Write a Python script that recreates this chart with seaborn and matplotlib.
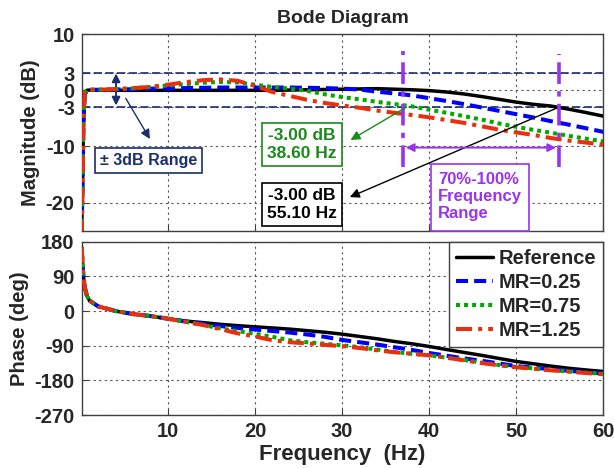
import numpy as np
import pandas as pd
import seaborn as sns
import matplotlib
matplotlib.use("Agg")
import matplotlib.pyplot as plt
from matplotlib.patches import Rectangle

#--- data ---
freq = [0.1, 0.2, 0.3, 0.45, 0.7, 1, 2, 4, 6, 8, 10, 12, 14, 16, 18, 20, 22, 24,
        26, 28, 30, 32, 34, 36, 38, 40, 42, 44, 46, 48, 50, 52, 54, 56, 58, 60]

mag_ref = [-25, -17, -6, -0.8, 0, 0.05, 0, 0, 0, 0, 0, 0, 0, 0, 0, 0, 0, 0.05,
           0.1, 0.15, 0.2, 0.25, 0.3, 0.2, 0.1, -0.05, -0.3, -0.65, -1.1, -1.6,
           -2.1, -2.5, -2.8, -3.35, -3.95, -4.6]
mag_025 = [-25, -17, -6, -0.8, 0.1, 0.1, 0.1, 0.15, 0.2, 0.3, 0.35, 0.4, 0.45,
           0.5, 0.5, 0.5, 0.5, 0.5, 0.45, 0.4, 0.3, 0.15, -0.25, -0.55, -0.9,
           -1.4, -1.9, -2.45, -3.05, -3.65, -4.25, -4.85, -5.5, -6.1, -6.75, -7.4]
mag_075 = [-25, -17, -6, -0.6, 0.1, 0.1, 0.1, 0.2, 0.35, 0.6, 0.85, 1.1, 1.35,
           1.5, 1.4, 1.0, 0.6, 0.3, -0.1, -0.7, -1.2, -1.6, -2.05, -2.45, -2.85,
           -3.45, -4.0, -4.6, -5.2, -5.9, -6.5, -7.05, -7.55, -8.1, -8.6, -9.1]
mag_125 = [-26, -18, -6.5, -0.5, 0.1, 0.1, 0.1, 0.2, 0.4, 0.6, 1.0, 1.45, 1.8,
           1.95, 1.7, 0.8, -0.3, -1.0, -1.7, -2.25, -2.7, -3.1, -3.6, -4.0, -4.4,
           -4.8, -5.3, -5.8, -6.4, -7.0, -7.5, -7.95, -8.5, -8.95, -9.3, -9.7]

ph_ref = [165, 125, 90, 62, 40, 27, 12, 0, -8, -13, -20, -26, -30, -34.5, -38,
          -41, -44, -47, -51, -55, -60, -66, -72, -79, -85, -92, -100, -107.5,
          -115, -123, -131, -137, -143, -148.5, -153, -157]
ph_025 = [165, 125, 90, 62, 40, 27, 12, 0, -8, -13, -20, -27, -33, -39, -44,
          -48, -52, -56, -61, -67, -75, -81, -87, -94, -101, -109, -116, -123,
          -129, -136, -143, -147, -151, -155, -159, -162]
ph_075 = [165, 125, 90, 62, 40, 27, 12, 0, -8, -13, -20, -28, -36, -45, -52,
          -59, -67, -76, -81, -85, -89, -94, -100, -106, -111, -115, -121, -127,
          -134, -140, -145, -149, -153, -157, -160, -163]
ph_125 = [165, 125, 90, 62, 40, 27, 12, 0, -8, -13, -20, -28, -36, -47, -58,
          -66, -76, -81, -84, -88, -91, -96, -102, -107, -111, -115, -121, -128,
          -135, -141, -146, -150, -154, -157, -161, -164]

labels = ['Reference', 'MR=0.25', 'MR=0.75', 'MR=1.25']
mag_tab = [mag_ref, mag_025, mag_075, mag_125]
ph_tab = [ph_ref, ph_025, ph_075, ph_125]

# annotation values
cut_ref = 55.1
cut_075 = 38.6
band = [37.0, 54.9]

#--- styles ---
colors = ['black', '#0000ff', '#00aa00', '#e8300e']
styles = ['-', (0, (3, 1.5)), (0, (1, 1)), (0, (4, 1.5, 1, 1.5))]
widths = [2.5, 2.9, 2.9, 2.9]
navy = '#1a2e70'
purple = '#9933ee'
green = '#1a8a1a'

sns.set_style('ticks')
plt.rcParams['font.family'] = ['Liberation Sans', 'DejaVu Sans']
plt.rcParams['font.weight'] = 'bold'
plt.rcParams['axes.labelweight'] = 'bold'
plt.rcParams['axes.titleweight'] = 'bold'
plt.rcParams['axes.unicode_minus'] = False

fig = plt.figure(figsize=(6.14, 4.68), dpi=100)
ax1 = fig.add_axes([0.133, 0.507, 0.8496, 0.420])
ax2 = fig.add_axes([0.133, 0.1132, 0.8496, 0.3704])

for i in range(4):
    sns.lineplot(x=freq, y=mag_tab[i], ax=ax1, color=colors[i], linestyle=styles[i],
                 lw=widths[i], errorbar=None, legend=False, zorder=3 + i * 0.1)
    sns.lineplot(x=freq, y=ph_tab[i], ax=ax2, color=colors[i], linestyle=styles[i],
                 lw=widths[i], errorbar=None, label=labels[i], zorder=3 + i * 0.1)

for ax in (ax1, ax2):
    ax.set_xlim(0.1, 60)
    ax.set_xticks([10, 20, 30, 40, 50, 60])
    ax.grid(True, ls=(0, (2, 3)), color='#555555', lw=0.8)
    ax.tick_params(direction='in', length=4, color='#404040', labelsize=14.5, width=0.8, pad=5)
    for s in ax.spines.values():
        s.set_color('#404040')
        s.set_linewidth(1.0)

ax1.set_ylim(-25, 10)
ax1.set_yticks([10, 3, 0, -3, -10, -20])
ax1.set_xticklabels([])
ax1.set_ylabel('Magnitude (dB)', fontsize=14.5, labelpad=4)
ax1.set_title('Bode Diagram', fontsize=14, pad=8)

ax2.set_ylim(-270, 180)
ax2.set_yticks([180, 90, 0, -90, -180, -270])
ax2.set_ylabel('Phase (deg)', fontsize=14.5, labelpad=4)
ax2.set_xlabel('Frequency  (Hz)', fontsize=16, labelpad=2)

#--- magnitude annotations ---
ax1.axhline(3, color=navy, ls=(0, (5, 2)), lw=1.2, zorder=2)
ax1.axhline(-3, color=navy, ls=(0, (5, 2)), lw=1.2, zorder=2)
ax1.annotate('', xy=(4.05, 3.5), xytext=(4.05, -3.2),
             arrowprops=dict(arrowstyle='<|-|>', color=navy, lw=1.4, mutation_scale=12))
ax1.annotate('', xy=(8.1, -9.1), xytext=(5.0, -1.0),
             arrowprops=dict(arrowstyle='-|>', color=navy, lw=1.0, mutation_scale=14))
ax1.text(7.8, -12.5, '± 3dB Range', ha='center', va='center', color=navy, fontsize=11.5,
         bbox=dict(boxstyle='square,pad=0.3', fc='white', ec=navy, lw=1.2), zorder=6)

ax1.annotate('', xy=(30.7, -9.1), xytext=(37.6, -2.8),
             arrowprops=dict(arrowstyle='-|>', color=green, lw=1.0, mutation_scale=14), zorder=5)
ax1.text(25.4, -9.6, '-3.00 dB\n%.2f Hz' % cut_075, ha='center', va='center', color=green,
         fontsize=12.5, linespacing=1.25,
         bbox=dict(boxstyle='square,pad=0.3', fc='white', ec=green, lw=1.2), zorder=6)

ax1.annotate('', xy=(30.6, -19.2), xytext=(band[1], -3.0),
             arrowprops=dict(arrowstyle='-|>', color='black', lw=1.0, mutation_scale=14), zorder=5)
ax1.text(25.4, -20.3, '-3.00 dB\n%.2f Hz' % cut_ref, ha='center', va='center', color='black',
         fontsize=12.5, linespacing=1.25,
         bbox=dict(boxstyle='square,pad=0.3', fc='white', ec='black', lw=1.2), zorder=6)

ax1.vlines(band, [-13.7, -13.7], [7.0, 6.5], colors=purple, linestyles=(0, (6, 2, 1.5, 2)),
           lw=2.6, zorder=4)
ax1.annotate('', xy=(band[1], -10.2), xytext=(band[0], -10.2),
             arrowprops=dict(arrowstyle='<|-|>', color=purple, lw=1.4, mutation_scale=12), zorder=5)
ax1.add_patch(Rectangle((40.2, -25), 11.3, 11.8, fc='white', ec=purple, lw=1.2, zorder=6,
                        clip_on=False))
ax1.text(45.85, -18.9, '70%-100%\nFrequency\nRange', ha='center', va='center', color=purple,
         fontsize=12, linespacing=1.2, zorder=7, multialignment='left')

#--- legend ---
leg = ax2.legend(loc='upper right', fontsize=14.5, frameon=True, fancybox=False,
                 edgecolor='#404040', framealpha=1, borderaxespad=0, handlelength=1.8,
                 labelspacing=0.25, handletextpad=0.3, borderpad=0.35)
leg.get_frame().set_linewidth(1.0)

fig.savefig('out.png', dpi=100)
